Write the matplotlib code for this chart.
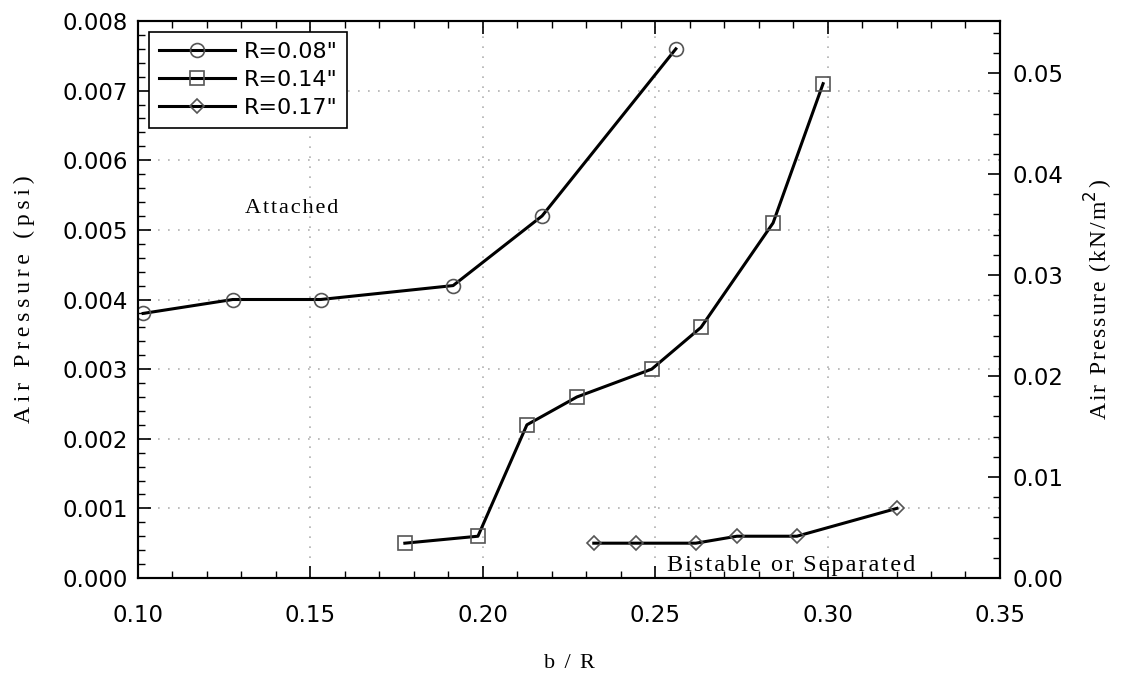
import matplotlib
matplotlib.use("Agg")
import matplotlib.pyplot as plt
from matplotlib.ticker import MultipleLocator, FormatStrFormatter

# Data
x_r008 = [0.1015, 0.1275, 0.153, 0.1914, 0.2172, 0.256]
y_r008 = [0.0038, 0.0040, 0.0040, 0.0042, 0.0052, 0.0076]
x_r014 = [0.1774, 0.1986, 0.2128, 0.2273, 0.249, 0.2633, 0.2842, 0.2987]
y_r014 = [0.0005, 0.0006, 0.0022, 0.0026, 0.0030, 0.0036, 0.0051, 0.0071]
x_r017 = [0.2322, 0.2445, 0.2618, 0.2737, 0.2911, 0.3201]
y_r017 = [0.0005, 0.0005, 0.0005, 0.0006, 0.0006, 0.0010]
labels = ['R=0.08"', 'R=0.14"', 'R=0.17"']
PSI_TO_KNM2 = 6.895

TICKFONT = 'DejaVu Sans'
SERIF = ['Liberation Serif', 'DejaVu Serif']
HS = '\u200a'
TS = '\u2009'


def spaced(s, sep=HS):
    return sep.join(list(s))


fig = plt.figure(figsize=(11.28, 6.82), dpi=100)
ax = fig.add_axes([0.1223, 0.1525, 0.7642, 0.8167])

mk = dict(color='black', lw=2.2, markerfacecolor='none', markeredgecolor='#555555', markeredgewidth=1.2)
ax.plot(x_r008, y_r008, marker='o', ms=10, label=labels[0], **mk)
ax.plot(x_r014, y_r014, marker='s', ms=10, label=labels[1], **mk)
ax.plot(x_r017, y_r017, marker='D', ms=7, label=labels[2], **mk)

ax.set_xlim(0.10, 0.35)
ax.set_ylim(0.0, 0.008)
ax.xaxis.set_major_locator(MultipleLocator(0.05))
ax.xaxis.set_minor_locator(MultipleLocator(0.01))
ax.yaxis.set_major_locator(MultipleLocator(0.001))
ax.yaxis.set_minor_locator(MultipleLocator(0.0002))
ax.xaxis.set_major_formatter(FormatStrFormatter('%.2f'))
ax.yaxis.set_major_formatter(FormatStrFormatter('%.3f'))
ax.tick_params(which='both', direction='in', top=True, right=False, labelsize=16.5,
               labelfontfamily=TICKFONT)
ax.tick_params(which='major', length=9, width=1.2)
ax.tick_params(which='minor', length=5, width=1.0)
ax.tick_params(axis='x', pad=19)
ax.tick_params(axis='y', pad=7)
for s in ax.spines.values():
    s.set_linewidth(1.5)

ax.grid(True, which='major', linestyle=(0, (1, 5)), color='#b0b0b0', lw=1.2)

ax2 = ax.twinx()
ax2.set_ylim(0.0, 0.008 * PSI_TO_KNM2)
ax2.yaxis.set_major_locator(MultipleLocator(0.01))
ax2.yaxis.set_minor_locator(MultipleLocator(0.002))
ax2.yaxis.set_major_formatter(FormatStrFormatter('%.2f'))
ax2.tick_params(which='both', direction='in', labelsize=16.5, labelfontfamily=TICKFONT, pad=9)
ax2.tick_params(which='major', length=9, width=1.2)
ax2.tick_params(which='minor', length=5, width=1.0)
for s in ax2.spines.values():
    s.set_linewidth(1.5)
ax2.set_ylabel(spaced('Air Pressure (kN/m') + '$^2$' + HS + ')', family=SERIF, fontsize=17, labelpad=14)

ax.set_ylabel(spaced('Air Pressure (psi)', TS), family=SERIF, fontsize=17, labelpad=20)
ax.set_xlabel(spaced('b / R'), family=SERIF, fontsize=16, labelpad=19)

ax.text(0.1445, 0.0053, spaced('Attached'), family=SERIF, fontsize=16, ha='center', va='center')
ax.text(0.2895, 0.00018, spaced('Bistable or Separated'), family=SERIF, fontsize=17.5, ha='center', va='center')

leg = ax.legend(loc='upper left', handlelength=3.4, handletextpad=0.4, frameon=True, fancybox=False,
                edgecolor='black', borderpad=0.45, labelspacing=0.35,
                prop={'family': TICKFONT, 'size': 16}, bbox_to_anchor=(0.0, 1.0))
leg.get_frame().set_linewidth(1.2)
leg.get_frame().set_alpha(1)

fig.savefig('out.png', dpi=100)
